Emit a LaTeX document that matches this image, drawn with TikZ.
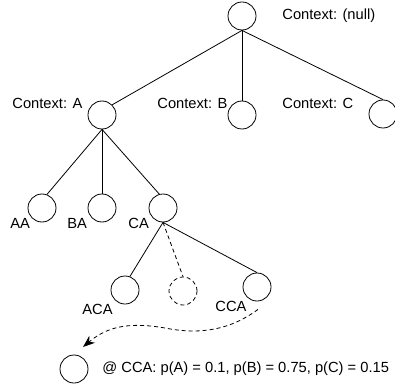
\documentclass[tikz,border=0pt]{standalone}
\usepackage{fontspec}
\setmainfont{Liberation Sans}
\usetikzlibrary{arrows.meta,calc}

\begin{document}
\begin{tikzpicture}[
    x=1pt, y=-1pt,
    font=\fontsize{14.7}{17}\selectfont,
    line width=0.8pt,
    ctx/.style={draw, circle, minimum size=28pt, inner sep=0pt},
    ghost/.style={ctx, dash pattern=on 4pt off 3pt},
    tag/.style={anchor=west, inner sep=0pt},
    hint/.style={dash pattern=on 4pt off 3pt}
]
\useasboundingbox (0,0) rectangle (395,387);
\clip (0,0) rectangle (395,387);

% Root context
\node[ctx] (root) at (242,16) {};
\node[tag] (lroot) at (282,16) {Context: (null)};

% First order contexts
\node[ctx] (a) at (102,115) {};
\node[ctx] (b) at (242,115) {};
\node[ctx] (c) at (383,114) {};
\node[tag] (la) at (12,103) {Context: A};
\node[tag] (lb) at (157,103) {Context: B};
\node[tag] (lc) at (282,103) {Context: C};

\draw (root.south) -- (a.north east);
\draw (root.south) -- (b.north);
\draw (root.south) -- (c.north);

% Second order contexts
\node[ctx] (aa) at (42,208) {};
\node[ctx] (ba) at (102,208) {};
\node[ctx] (ca) at (163,208) {};
\node[tag] (laa) at (10,223) {AA};
\node[tag] (lba) at (67,223) {BA};
\node[tag] (lca) at (128,223) {CA};

\draw (a.south) -- (aa.70);
\draw (a.south) -- (ba.north);
\draw (a.south) -- (ca.105);

% Third order contexts
\node[ctx] (aca) at (125,290) {};
\node[ghost] (bca) at (183,291) {};
\node[ctx] (cca) at (257,287) {};
\node[tag] (laca) at (82,309) {ACA};
\node[tag] (lcca) at (215,306) {CCA};

\draw (ca.south) -- (aca.70);
\draw[hint] (ca.south) -- (bca.north);
\draw (ca.south) -- (cca.north);

% Prediction at CCA
\node[ctx] (pred) at (74,369) {};
\node[tag] (lpred) at (102,369) {@ CCA: p(A) = 0.1, p(B) = 0.75, p(C) = 0.15};
\coordinate (drop) at ($(pred)+(9,-22)$);

\draw[hint, -{Stealth[length=12pt,width=9pt]}] ($(cca.south)+(1,8)$)
    .. controls (230,330) and (200,335) .. (165,328)
    .. controls (130,322) and (108,326) .. (drop);

\end{tikzpicture}
\end{document}
